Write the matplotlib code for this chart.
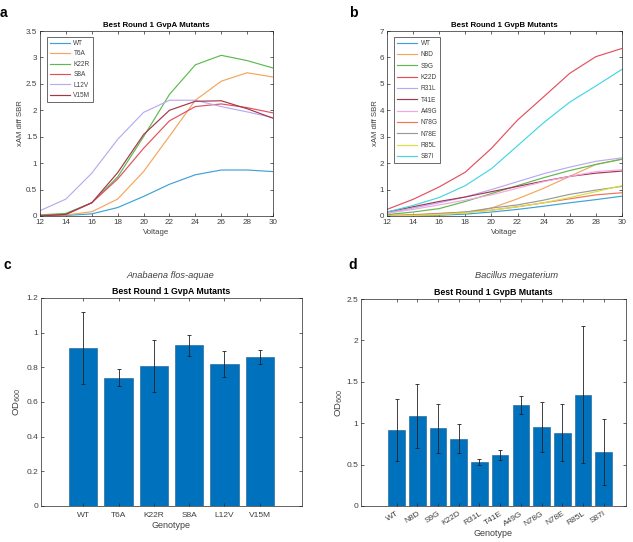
import numpy as np
import matplotlib
matplotlib.use("Agg")
import matplotlib.pyplot as plt

plt.rcParams["font.family"] = ["Liberation Sans", "DejaVu Sans"]

# ============================================================
# DATA
# ============================================================
voltage = [12, 14, 16, 18, 20, 22, 24, 26, 28, 30]

gvpa_names = ["WT", "T6A", "K22R", "S8A", "L12V", "V15M"]
gvpa_wt   = [0.00, 0.01, 0.04, 0.16, 0.37, 0.60, 0.78, 0.87, 0.87, 0.84]
gvpa_t6a  = [0.01, 0.02, 0.08, 0.32, 0.84, 1.51, 2.19, 2.55, 2.71, 2.63]
gvpa_k22r = [0.02, 0.05, 0.25, 0.74, 1.50, 2.30, 2.86, 3.04, 2.94, 2.80]
gvpa_s8a  = [0.01, 0.03, 0.25, 0.70, 1.28, 1.80, 2.07, 2.12, 2.05, 1.95]
gvpa_l12v = [0.10, 0.32, 0.81, 1.45, 1.96, 2.19, 2.19, 2.07, 1.97, 1.86]
gvpa_v15m = [0.00, 0.03, 0.25, 0.82, 1.54, 2.00, 2.17, 2.18, 2.03, 1.85]

gvpb_names = ["WT", "N8D", "S9G", "K22D", "R31L", "T41E", "A49G", "N78G",
              "N78E", "R85L", "S87I"]
gvpb_wt   = [0.00, 0.01, 0.03, 0.07, 0.15, 0.25, 0.37, 0.50, 0.62, 0.75]
gvpb_n8d  = [0.00, 0.02, 0.05, 0.12, 0.30, 0.65, 1.05, 1.50, 1.95, 2.15]
gvpb_s9g  = [0.05, 0.15, 0.28, 0.55, 0.85, 1.15, 1.45, 1.72, 1.95, 2.15]
gvpb_k22d = [0.25, 0.63, 1.10, 1.66, 2.56, 3.63, 4.51, 5.40, 6.03, 6.34]
gvpb_r31l = [0.10, 0.30, 0.50, 0.72, 1.00, 1.30, 1.60, 1.85, 2.07, 2.20]
gvpb_t41e = [0.15, 0.35, 0.55, 0.72, 0.92, 1.12, 1.32, 1.50, 1.62, 1.70]
gvpb_a49g = [0.10, 0.25, 0.42, 0.60, 0.80, 1.05, 1.30, 1.50, 1.68, 1.75]
gvpb_n78g = [0.02, 0.05, 0.10, 0.15, 0.22, 0.35, 0.50, 0.65, 0.80, 0.88]
gvpb_n78e = [0.00, 0.03, 0.08, 0.15, 0.30, 0.42, 0.60, 0.82, 0.98, 1.12]
gvpb_r85l = [0.00, 0.02, 0.06, 0.12, 0.22, 0.35, 0.50, 0.70, 0.92, 1.15]
gvpb_s87i = [0.15, 0.40, 0.70, 1.15, 1.79, 2.66, 3.53, 4.31, 4.92, 5.55]

od_a_mean = [0.912, 0.740, 0.808, 0.927, 0.821, 0.860]
od_a_err  = [0.210, 0.048, 0.150, 0.060, 0.075, 0.038]

od_b_mean = [0.917, 1.086, 0.937, 0.812, 0.533, 0.614, 1.224, 0.957,
             0.884, 1.345, 0.654]
od_b_err  = [0.370, 0.390, 0.300, 0.175, 0.040, 0.060, 0.110, 0.300,
             0.345, 0.830, 0.400]

# ============================================================
# STYLE
# ============================================================
W, H = 633, 542
LINE_COLORS = ["#3fa1d9", "#f5a55c", "#5cbb4e", "#e2505e", "#baaaf0",
               "#a3374c", "#f2a6e4", "#f27452", "#9a9a9a", "#d9e043",
               "#45d6e2"]
BAR_COLOR = "#0072bd"
TXT = "#404040"
TICK_FS = 5.8


def px_axes(fig, left, top, right, bottom):
    return fig.add_axes([left / W, 1 - bottom / H, (right - left) / W,
                         (bottom - top) / H])


def matlab_style(ax):
    for s in ax.spines.values():
        s.set_color("#262626")
        s.set_linewidth(0.5)
    ax.tick_params(direction="in", length=2.5, width=0.5, colors="#262626",
                   labelcolor=TXT, labelsize=TICK_FS, top=True, right=True,
                   pad=2)


def fmt(v):
    return f"{v:g}"


def add_legend(ax, spacing):
    leg = ax.legend(loc="upper left", fontsize=4.7, frameon=True,
                    fancybox=False, handlelength=3.0, handletextpad=0.6,
                    borderpad=0.45, labelspacing=spacing, borderaxespad=0,
                    bbox_to_anchor=(0.03, 0.967))
    leg.get_frame().set_edgecolor("#262626")
    leg.get_frame().set_linewidth(0.6)
    for t in leg.get_texts():
        t.set_color(TXT)


fig = plt.figure(figsize=(W / 100, H / 100), dpi=100)

# ---------------- a ----------------
ax = px_axes(fig, 40, 31, 273, 216)
for name, ys, c in zip(gvpa_names,
                       [gvpa_wt, gvpa_t6a, gvpa_k22r, gvpa_s8a, gvpa_l12v, gvpa_v15m],
                       LINE_COLORS):
    ax.plot(voltage, ys, color=c, lw=0.85, label=name)
ax.set_xlim(12, 30)
ax.set_ylim(0, 3.5)
ax.set_xticks(range(12, 31, 2))
yt = np.arange(0, 3.51, 0.5)
ax.set_yticks(yt)
ax.set_yticklabels([fmt(v) for v in yt])
matlab_style(ax)
ax.set_xlabel("Voltage", fontsize=5.6, color=TXT, labelpad=2)
ax.set_ylabel("xAM diff SBR", fontsize=5.6, color=TXT, labelpad=1.5)
ax.set_title("Best Round 1 GvpA Mutants", fontsize=5.7,
             fontweight="bold", pad=3)
add_legend(ax, 0.52)
fig.text(0 / W, 1 - 13 / H, "a", fontsize=10, fontweight="bold", va="center")

# ---------------- b ----------------
ax = px_axes(fig, 387, 31, 622, 216)
gvpb_series = [gvpb_wt, gvpb_n8d, gvpb_s9g, gvpb_k22d, gvpb_r31l, gvpb_t41e,
               gvpb_a49g, gvpb_n78g, gvpb_n78e, gvpb_r85l, gvpb_s87i]
for name, ys, c in zip(gvpb_names, gvpb_series, LINE_COLORS):
    ax.plot(voltage, ys, color=c, lw=0.85, label=name)
ax.set_xlim(12, 30)
ax.set_ylim(0, 7)
ax.set_xticks(range(12, 31, 2))
ax.set_yticks(range(0, 8))
matlab_style(ax)
ax.set_xlabel("Voltage", fontsize=5.6, color=TXT, labelpad=2)
ax.set_ylabel("xAM diff SBR", fontsize=5.6, color=TXT, labelpad=0.5)
ax.set_title("Best Round 1 GvpB Mutants", fontsize=5.7,
             fontweight="bold", pad=3)
add_legend(ax, 0.66)
fig.text(349 / W, 1 - 13 / H, "b", fontsize=10, fontweight="bold", va="center")

# ---------------- c ----------------
ax = px_axes(fig, 41, 298, 302, 506)
xa = np.arange(1, len(od_a_mean) + 1)
ax.bar(xa, od_a_mean, width=0.8, color=BAR_COLOR, edgecolor="#1a5a8a",
       linewidth=0.4)
ax.errorbar(xa, od_a_mean, yerr=od_a_err, fmt="none", ecolor="#202020",
            elinewidth=0.6, capsize=1.6, capthick=0.6)
ax.set_xlim(-0.2, 7.2)
ax.set_ylim(0, 1.2)
ax.set_xticks(xa)
ax.set_xticklabels(gvpa_names)
yt = np.arange(0, 1.21, 0.2)
ax.set_yticks(yt)
ax.set_yticklabels([fmt(round(v, 1)) for v in yt])
matlab_style(ax)
ax.tick_params(axis="x", labelsize=6.0, pad=4)
ax.tick_params(axis="y", labelsize=6.0)
ax.set_xlabel("Genotype", fontsize=6.5, color=TXT, labelpad=2)
ax.set_ylabel("OD$_{600}$", fontsize=6.8, color=TXT, labelpad=2.5)
ax.set_title("Best Round 1 GvpA Mutants", fontsize=6.3,
             fontweight="bold", pad=3)
fig.text(170 / W, 1 - 276 / H, "Anabaena flos-aquae", fontsize=6.7,
         style="italic", color=TXT, ha="center", va="center")
fig.text(4 / W, 1 - 265 / H, "c", fontsize=10, fontweight="bold", va="center")

# ---------------- d ----------------
ax = px_axes(fig, 361, 299, 626, 506)
xb = np.arange(len(od_b_mean))
ax.bar(xb, od_b_mean, width=0.8, color=BAR_COLOR, edgecolor="#1a5a8a",
       linewidth=0.4)
ax.errorbar(xb, od_b_mean, yerr=od_b_err, fmt="none", ecolor="#202020",
            elinewidth=0.6, capsize=1.6, capthick=0.6)
ax.set_xlim(-1.72, 11.08)
ax.set_ylim(0, 2.5)
ax.set_xticks(xb)
ax.set_xticklabels(gvpb_names, rotation=32, ha="right", rotation_mode="anchor")
yt = np.arange(0, 2.51, 0.5)
ax.set_yticks(yt)
ax.set_yticklabels([fmt(v) for v in yt])
matlab_style(ax)
ax.tick_params(axis="x", labelsize=6.0, pad=3)
ax.tick_params(axis="y", labelsize=6.0)
ax.set_xlabel("Genotype", fontsize=6.5, color=TXT, labelpad=1)
ax.set_ylabel("OD$_{600}$", fontsize=6.8, color=TXT, labelpad=1)
ax.set_title("Best Round 1 GvpB Mutants", fontsize=6.3,
             fontweight="bold", pad=3)
fig.text(517 / W, 1 - 276 / H, "Bacillus megaterium", fontsize=6.7,
         style="italic", color=TXT, ha="center", va="center")
fig.text(348 / W, 1 - 265 / H, "d", fontsize=10, fontweight="bold", va="center")

fig.savefig("out.png", dpi=100)
